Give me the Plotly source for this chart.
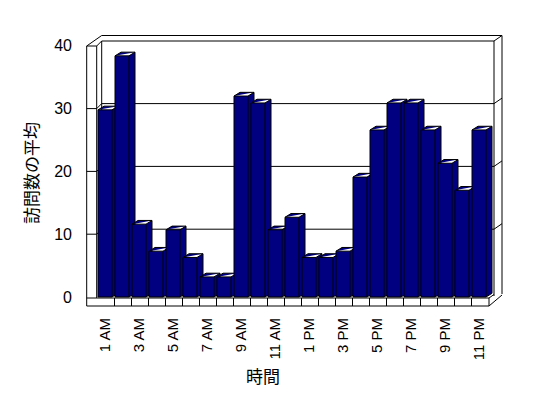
import plotly.graph_objects as go

# ---- data ----
hours = ["1 AM", "2 AM", "3 AM", "4 AM", "5 AM", "6 AM", "7 AM", "8 AM", "9 AM", "10 AM",
         "11 AM", "12 PM", "1 PM", "2 PM", "3 PM", "4 PM", "5 PM", "6 PM", "7 PM", "8 PM",
         "9 PM", "10 PM", "11 PM"]
avg_visits = [29.8, 38.4, 11.6, 7.3, 10.7, 6.3, 3.2, 3.2, 32.0, 30.9, 10.7, 12.7,
              6.3, 6.3, 7.3, 19.1, 26.6, 30.9, 30.9, 26.6, 21.3, 17.0, 26.6]
y_ticks = [0, 10, 20, 30, 40]
x_title = "時間"
y_title = "訪問数の平均"

# ---- layout geometry (page pixels; the page body has an 8px margin) ----
OFF = 8
W, H = 548 - OFF, 398 - OFF
PL, PR, PT, PB = 80, 510, 30, 312
SX = 17.0      # px per category
C0 = 105.0     # px of first category centre
SY = 6.28      # px per value unit
Z0 = 297.0     # px of value 0


def X(px):
    return (px - C0) / SX


def Y(py):
    return (Z0 - py) / SY


NAVY = "#000080"
hw = 7.0 / SX
dx = 6.0 / SX
dy = 3.7 / SY

fig = go.Figure()

# bars (front + top + side faces), drawn left to right
for i, v in enumerate(avg_visits):
    l, r = i - hw, i + hw
    xs = [l, l, l + dx, r + dx, r + dx, r, l, None,
          l, r, r + dx, None, r, r]
    ys = [0, v, v + dy, v + dy, dy, 0, 0, None,
          v, v, v + dy, None, v, 0]
    fig.add_trace(go.Scatter(
        x=xs, y=ys, mode="lines", fill="toself", fillcolor=NAVY,
        line=dict(color="black", width=1), hoverinfo="skip",
        showlegend=False, name=hours[i]))

# frame / walls / gridlines as shapes
shapes = []


def poly(pts):
    d = "M " + " L ".join(f"{X(px):.4f},{Y(py):.4f}" for px, py in pts)
    shapes.append(dict(type="path", path=d, xref="x", yref="y", layer="below",
                       line=dict(color="black", width=1)))


poly([(86.7, 306), (86.7, 46), (101.7, 35.5), (502, 35.5), (502, 294)])
poly([(86.7, 46), (96.7, 46), (101.7, 41), (494, 41), (502, 35.5)])
poly([(96.7, 46), (96.7, 298)])
poly([(101.7, 41), (101.7, 293)])
poly([(494, 41), (494, 296)])
poly([(86.7, 306), (489, 306), (502, 295)])
poly([(86.7, 298), (489, 298), (494, 294.5)])
poly([(489, 298), (489, 306)])
for g in y_ticks[1:-1]:
    yf = Z0 - g * SY
    poly([(86.7, yf), (96.7, yf), (101.7, yf - 5), (494, yf - 5), (502, yf - 10.5)])
for i in range(len(hours) - 1):
    px = C0 + SX * i + 9.5
    poly([(px, 298), (px, 306)])

FONT = "Liberation Sans, Noto Sans CJK JP, sans-serif"
CJK = "Noto Sans CJK JP, sans-serif"

fig.update_layout(
    width=W, height=H,
    margin=dict(l=PL - OFF, r=W - (PR - OFF), t=PT - OFF, b=H - (PB - OFF), pad=0),
    paper_bgcolor="white", plot_bgcolor="white",
    shapes=shapes,
    showlegend=False,
    xaxis=dict(range=[X(PL), X(PR)], showgrid=False, zeroline=False, showline=False,
               automargin=False,
               tickmode="array", tickvals=list(range(0, len(hours), 2)),
               ticktext=hours[::2], tickangle=-90, ticks="",
               tickfont=dict(family=FONT, size=15, color="black"),
               ticklabelstandoff=2, fixedrange=True),
    yaxis=dict(range=[Y(PB), Y(PT)], showgrid=False, zeroline=False, showline=False,
               automargin=False,
               tickmode="array", tickvals=y_ticks, ticks="",
               tickfont=dict(family=FONT, size=16, color="black"),
               ticklabelstandoff=7, fixedrange=True),
    annotations=[
        dict(text=x_title, xref="paper", yref="paper",
             x=(263 - PL) / (PR - PL), y=(PB - 376) / (PB - PT),
             xanchor="center", yanchor="middle", showarrow=False,
             font=dict(family=CJK, size=17, color="black")),
        dict(text=y_title, xref="paper", yref="paper",
             x=(30 - PL) / (PR - PL), y=(PB - 173) / (PB - PT),
             xanchor="center", yanchor="middle", showarrow=False, textangle=-90,
             font=dict(family=CJK, size=17, color="black")),
    ],
)

fig.write_html("out.html")
